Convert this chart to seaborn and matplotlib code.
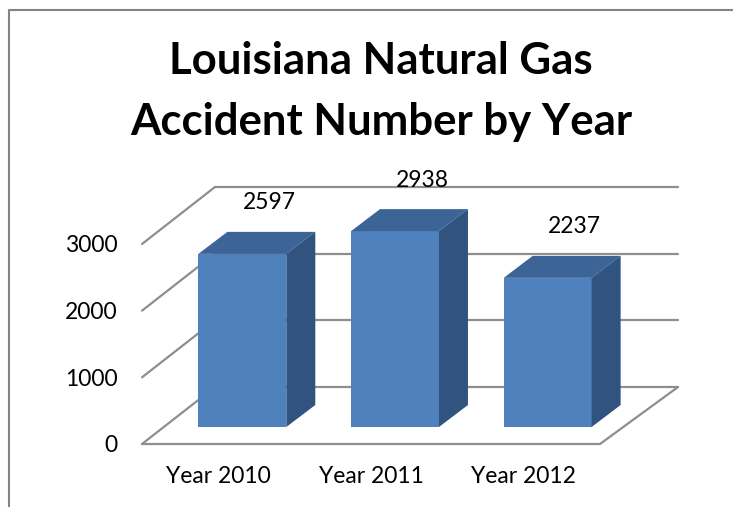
import matplotlib
matplotlib.use("Agg")
import matplotlib.pyplot as plt
import matplotlib.transforms as mtransforms
from matplotlib.patches import Polygon
from matplotlib.lines import Line2D
import seaborn as sns
import pandas as pd

categories = ["Year 2010", "Year 2011", "Year 2012"]
values = [2597, 2938, 2237]
y_ticks = [0, 1000, 2000, 3000]
title_lines = ["Louisiana Natural Gas", "Accident Number by Year"]

sns.set_theme(style="white")
plt.rcParams['font.family'] = ['Lato', 'DejaVu Sans']

W, H = 733, 507
DPI = 100
fig = plt.figure(figsize=(W / DPI, H / DPI), dpi=DPI)
fig.patch.set_facecolor("white")

# front plane of the plot: x 142..600 px, y 444 (0) .. 244 (3000) px from top
ax = fig.add_axes([142 / W, (H - 444) / H, (600 - 142) / W, 200 / H])
ax.set_facecolor("none")

df = pd.DataFrame({"cat": categories, "val": values})
sns.barplot(data=df, x="cat", y="val", color="#4F81BD", saturation=1,
            width=0.576, ax=ax, zorder=5, edgecolor="none")
ax.set_xlim(-0.5, 2.5)
ax.set_ylim(0, 3000)
for s in ax.spines.values():
    s.set_visible(False)
ax.set_xlabel("")
ax.set_ylabel("")
ax.set_yticks(y_ticks)
ax.set_yticklabels([str(v) for v in y_ticks])
ax.tick_params(axis="y", length=0, pad=17.5, labelsize=16.5, labelcolor="black")
ax.tick_params(axis="x", length=0, pad=16, labelsize=16.5, labelcolor="black")

ident = mtransforms.IdentityTransform()

def D(x, y, dx=0.0, dy_up=0.0):
    p = ax.transData.transform((x, y))
    return (p[0] + dx, p[1] + dy_up)

def add_line(xs, ys):
    ln = Line2D(xs, ys, transform=ident, color="#8E8E8E", lw=1.6,
                zorder=1, clip_on=False)
    ax.add_artist(ln)

# depth offsets of back wall (px)
BL = (73, 57)   # left back corner offset
BR = (78, 57)   # right back corner offset

for v in y_ticks:
    p0 = D(-0.5, v, *BL)
    p1 = D(2.5, v, *BR)
    add_line([p0[0], p1[0]], [p0[1], p1[1]])      # back wall
    q0 = D(-0.5, v)
    add_line([q0[0], p0[0]], [q0[1], p0[1]])      # left wall
f0 = D(-0.5, 0)
f1 = D(2.5, 0)
r1 = D(2.5, 0, *BR)
add_line([f0[0], f1[0], r1[0]], [f0[1], f1[1], r1[1]])  # floor edges

# 3D bars: shift seaborn front faces, add top and side faces
FX, FY = 24, 17    # front face shift from front plane
DX, DY = 29, 22    # bar depth
front_tr = mtransforms.offset_copy(ax.transData, fig=fig, x=FX, y=FY, units="dots")
for patch in list(ax.patches):
    x0 = patch.get_x()
    w = patch.get_width()
    h = patch.get_height()
    patch.set_transform(front_tr)
    patch.set_clip_on(False)
    a = D(x0, h, FX, FY)
    b = D(x0 + w, h, FX, FY)
    c = D(x0 + w, h, FX + DX, FY + DY)
    d = D(x0, h, FX + DX, FY + DY)
    top = Polygon([a, b, c, d], closed=True, transform=ident,
                  facecolor="#3C6497", edgecolor="none", zorder=6, clip_on=False)
    ax.add_artist(top)
    e = D(x0 + w, 0, FX, FY)
    f = D(x0 + w, 0, FX + DX, FY + DY)
    side = Polygon([b, c, f, e], closed=True, transform=ident,
                   facecolor="#30537F", edgecolor="none", zorder=6, clip_on=False)
    ax.add_artist(side)

# value labels
for i, v in enumerate(values):
    ax.annotate(str(v), (i, v), xytext=(51, 68), textcoords="offset pixels",
                ha="center", va="center", fontsize=16.5, color="black",
                annotation_clip=False, zorder=10)

# title
fig.text(381 / W, 1 - 74 / H, title_lines[0], ha="center", va="baseline",
         fontsize=31.5, fontweight="bold", color="black")
fig.text(381 / W, 1 - 135 / H, title_lines[1], ha="center", va="baseline",
         fontsize=31.5, fontweight="bold", color="black")

# chart frame (top and left visible)
fig.add_artist(Line2D([9, 9, W], [0, H - 10, H - 10], transform=ident,
                      color="#848484", lw=1.5, zorder=20))

fig.savefig("out.png", dpi=DPI, facecolor="white")
